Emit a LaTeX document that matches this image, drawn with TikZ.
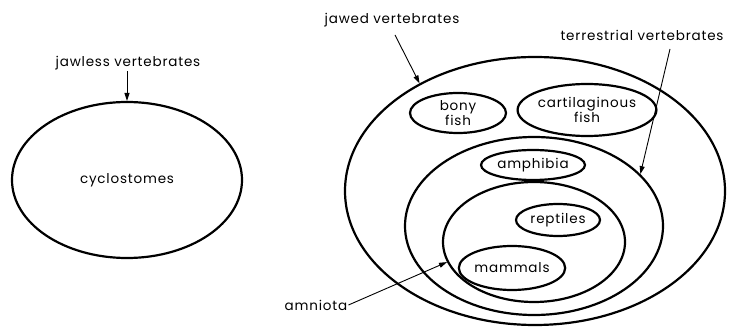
\documentclass[tikz,border=0pt]{standalone}
\usepackage{fontspec}
\setmainfont[LetterSpace=6]{Poppins}
\usetikzlibrary{shapes.geometric,arrows.meta}
\begin{document}
\begin{tikzpicture}[x=1pt,y=-1pt,
  set/.style={draw, ellipse, line width=2.2pt, inner sep=0pt, align=center,
    font=\fontsize{13.5}{15}\selectfont},
  lbl/.style={inner sep=1pt, font=\fontsize{13.5}{15}\selectfont},
  pointer/.style={line width=0.9pt, -{Triangle[width=5pt,length=8pt]}}]
\useasboundingbox (0,0) rectangle (733,328);
% left group
\node[set, minimum width=230, minimum height=156] (cyc) at (127,180) {cyclostomes};
\node[lbl] (jawless) at (128,63) {jawless vertebrates};
\draw[pointer] (jawless.south -| cyc.north) -- (cyc.north);
% right group
\node[set, minimum width=380, minimum height=268] (jawed) at (535,191) {};
\node[set, minimum width=258, minimum height=178] (terr) at (534,226) {};
\node[set, minimum width=182, minimum height=120] (amn) at (534,242) {};
\node[set, minimum width=96, minimum height=40] (bony) at (458,113) {bony\\fish};
\node[set, minimum width=124, minimum height=52] (cart) at (587,110) {cartilaginous\\fish};
\node[set, minimum width=104, minimum height=30] (amph) at (533,165) {amphibia};
\node[set, minimum width=84, minimum height=32] (rept) at (558,220) {reptiles};
\node[set, minimum width=94, minimum height=44] (mamm) at (512,268) {mammals};
% labels
\node[lbl] (jawedl) at (392,20) {jawed vertebrates};
\node[lbl] (terrl) at (642,35) {terrestrial vertebrates};
\node[lbl] (amnl) at (316,305) {amniota};
\coordinate (jawedstart) at (395,35);
\coordinate (terrstart) at (670,49);
\draw[pointer] (jawedstart) -- (jawed.137);
\draw[pointer] (terrstart) -- (terr.26);
\draw[pointer] (amnl.east) -- (amn.193);
\end{tikzpicture}
\end{document}
